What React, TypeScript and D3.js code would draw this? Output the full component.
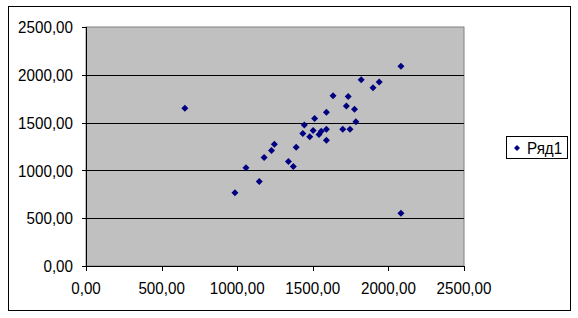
import React from "react";
import * as d3 from "d3";

const seriesName = "Ряд1";
const xValues = [654, 985, 1058, 1146, 1178, 1227, 1246, 1339, 1371, 1390, 1434, 1444, 1480, 1502, 1512, 1541, 1556, 1590, 1590, 1590, 1634, 1698, 1722, 1734, 1746, 1776, 1785, 1820, 1898, 1939, 2083, 2083];
const yValues = [1649, 767, 1028, 885, 1135, 1208, 1274, 1094, 1042, 1243, 1385, 1476, 1351, 1417, 1542, 1375, 1410, 1431, 1316, 1608, 1781, 1431, 1674, 1774, 1431, 1639, 1510, 1948, 1865, 1924, 2090, 552];
const xTicks = [0, 500, 1000, 1500, 2000, 2500];
const yTicks = [0, 500, 1000, 1500, 2000, 2500];

const fmt = (v: number) => v.toFixed(2).replace(".", ",");

export default function App() {
  const W = 578, H = 318;
  const left = 86, right = 464, top = 27, bottom = 266;
  const x = d3.scaleLinear().domain([0, 2500]).range([left, right]);
  const y = d3.scaleLinear().domain([0, 2500]).range([bottom, top]);
  const font = "Arial, 'Liberation Sans', sans-serif";
  const fs = 15.2;
  const sy = 1.12;
  const diamond = (cx: number, cy: number, r: number) =>
    `M${cx},${cy - r}L${cx + r},${cy}L${cx},${cy + r}L${cx - r},${cy}Z`;
  const Label = ({ tx, ty, anchor, children }: { tx: number; ty: number; anchor: string; children: React.ReactNode }) => (
    <text
      transform={`translate(${tx},${ty}) scale(1,${sy})`}
      dy="0.36em"
      textAnchor={anchor}
      fontFamily={font}
      fontSize={fs}
      fill="#000"
    >
      {children}
    </text>
  );
  return (
    <svg width={W} height={H} style={{ position: "absolute", left: 0, top: 0 }}>
      <rect x={0} y={0} width={W} height={H} fill="#fff" />
      <rect x={8.5} y={6.5} width={562} height={304} fill="#fff" stroke="#000" strokeWidth={1} />
      <rect x={left} y={top} width={right - left} height={bottom - top} fill="#c0c0c0" stroke="#808080" strokeWidth={1} />
      {yTicks.filter((t) => t > 0 && t < 2500).map((t) => (
        <line key={"g" + t} x1={left} x2={right} y1={Math.round(y(t)) + 0.5} y2={Math.round(y(t)) + 0.5} stroke="#000" />
      ))}
      <line x1={left + 0.5} x2={left + 0.5} y1={top} y2={bottom + 0.5} stroke="#000" />
      <line x1={left} x2={right + 0.5} y1={bottom + 0.5} y2={bottom + 0.5} stroke="#000" />
      {yTicks.map((t) => (
        <g key={"yt" + t}>
          <line x1={left - 4} x2={left} y1={Math.round(y(t)) + 0.5} y2={Math.round(y(t)) + 0.5} stroke="#000" />
          <Label tx={73} ty={y(t)} anchor="end">{fmt(t)}</Label>
        </g>
      ))}
      {xTicks.map((t) => (
        <g key={"xt" + t}>
          <line x1={Math.round(x(t)) + 0.5} x2={Math.round(x(t)) + 0.5} y1={bottom} y2={bottom + 5} stroke="#000" />
          <Label tx={x(t)} ty={288} anchor="middle">{fmt(t)}</Label>
        </g>
      ))}
      {xValues.map((xv, i) => (
        <path key={"p" + i} d={diamond(x(xv), y(yValues[i]), 3.5)} fill="#000080" />
      ))}
      <rect x={506.5} y={136.5} width={61} height={22} fill="#fff" stroke="#000" />
      <path d={diamond(517, 148, 3)} fill="#000080" />
      <Label tx={527} ty={148} anchor="start">{seriesName}</Label>
    </svg>
  );
}
